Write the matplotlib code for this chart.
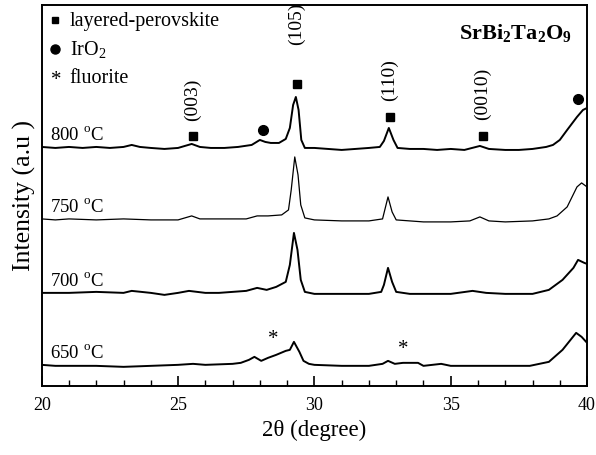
import matplotlib
matplotlib.use('Agg')
import matplotlib.pyplot as plt
from matplotlib.ticker import MultipleLocator

plt.rcParams['font.family'] = ['Liberation Serif', 'DejaVu Serif']
plt.rcParams['mathtext.fontset'] = 'custom'
plt.rcParams['mathtext.rm'] = 'Liberation Serif'
plt.rcParams['mathtext.bf'] = 'Liberation Serif:bold'

# XRD patterns (offset stacked)
tt_800 = [20.0, 20.5, 21.0, 21.5, 22.0, 22.5, 23.0, 23.3, 23.6, 24.0, 24.5, 25.0, 25.5, 25.8,
          26.2, 26.7, 27.2, 27.7, 28.0, 28.2, 28.4, 28.7, 28.95, 29.1, 29.22, 29.32, 29.42,
          29.52, 29.65, 30.0, 30.5, 31.0, 31.5, 32.0, 32.4, 32.55, 32.73, 32.9, 33.05, 33.5,
          34.0, 34.5, 35.0, 35.5, 36.07, 36.4, 37.0, 37.5, 38.0, 38.5, 38.75, 39.0, 39.27,
          39.63, 39.85, 40.0]
int_800 = [239, 238, 239, 238, 239, 238, 239, 241, 239, 238, 237, 238, 242, 239,
           238, 238, 239, 241, 246, 244, 243, 243, 247, 258, 281, 289, 276,
           246, 238, 238, 237, 236, 237, 238, 239, 245, 258, 246, 238, 237,
           237, 236, 237, 236, 240, 237, 236, 236, 237, 239, 241, 246, 256,
           269, 276, 278]

tt_750 = [20.0, 20.5, 21.0, 22.0, 23.0, 24.0, 25.0, 25.5, 25.8, 26.5, 27.0, 27.5, 27.9, 28.3,
          28.8, 29.05, 29.15, 29.28, 29.4, 29.5, 29.65, 30.0, 31.0, 32.0, 32.5, 32.7, 32.85,
          33.0, 33.5, 34.0, 35.0, 35.7, 36.07, 36.4, 37.0, 38.0, 38.6, 38.9, 39.27, 39.63,
          39.8, 40.0]
int_750 = [167, 166, 167, 166, 167, 166, 166, 170, 167, 167, 167, 167, 170, 170,
           171, 176, 196, 229, 211, 181, 168, 166, 165, 165, 167, 189, 174,
           166, 165, 164, 164, 165, 169, 165, 164, 165, 167, 170, 179, 199,
           203, 199]

tt_700 = [20.0, 21.0, 22.0, 23.0, 23.3, 24.0, 24.5, 25.0, 25.4, 26.0, 26.5, 27.0, 27.5, 27.9,
          28.25, 28.6, 28.95, 29.1, 29.25, 29.38, 29.5, 29.65, 30.0, 31.0, 32.0, 32.45, 32.55,
          32.7, 32.85, 33.0, 33.5, 34.0, 35.0, 35.8, 36.3, 37.0, 38.0, 38.6, 39.1, 39.5,
          39.67, 39.9, 40.0]
int_700 = [93, 93, 94, 93, 95, 93, 91, 93, 95, 93, 93, 94, 95, 98,
           96, 99, 104, 121, 153, 136, 106, 94, 92, 92, 92, 94, 101,
           118, 104, 94, 92, 92, 92, 95, 93, 92, 92, 96, 106, 118,
           126, 123, 122]

tt_650 = [20.0, 20.5, 21.0, 22.0, 23.0, 24.0, 25.0, 25.55, 26.0, 27.0, 27.3, 27.6, 27.8, 28.05,
          28.3, 28.6, 28.95, 29.1, 29.25, 29.45, 29.6, 29.8, 30.0, 31.0, 32.0, 32.5, 32.7,
          32.95, 33.25, 33.8, 34.0, 34.65, 35.0, 36.0, 37.0, 37.9, 38.6, 39.1, 39.6, 39.8, 40.0]
int_650 = [21, 20, 20, 20, 19, 20, 21, 22, 21, 22, 23, 26, 29, 25,
           28, 31, 35, 36, 44, 34, 25, 22, 21, 20, 20, 22, 25,
           22, 23, 23, 20, 22, 20, 20, 20, 20, 24, 36, 53, 49, 43]

temps = ['800', '750', '700', '650']
temp_label_y = [251, 179, 105, 33]

# phase markers
perov_x = [25.54, 29.36, 32.77, 36.18]
perov_y = [250, 302, 269, 250]
hkl = ['(003)', '(105)', '(110)', '(0010)']
hkl_y = [286, 362, 306, 292]
iro2_x = [28.11, 39.67]
iro2_y = [256, 287]
fluor_x = [28.48, 33.25]
fluor_y = [46, 36]

fig = plt.figure(figsize=(5.96, 4.55), dpi=100)
ax = fig.add_axes([0.070, 0.152, 0.915, 0.837])

ax.plot(tt_800, int_800, 'k-', lw=1.4)
ax.plot(tt_750, int_750, 'k-', lw=0.9)
ax.plot(tt_700, int_700, 'k-', lw=1.4)
ax.plot(tt_650, int_650, 'k-', lw=1.4)

ax.plot(perov_x, perov_y, 'ks', ms=5.5, ls='none')
ax.plot(iro2_x, iro2_y, 'ko', ms=7, ls='none')
for x, y in zip(fluor_x, fluor_y):
    ax.text(x, y, '*', fontsize=15, ha='center', va='center')
for x, y, s in zip(perov_x, hkl_y, hkl):
    ax.text(x, y, s, rotation=90, fontsize=14, ha='center', va='center')

for t, y in zip(temps, temp_label_y):
    ax.text(20.3, y, t + r' $^{\mathrm{o}}$C', fontsize=13.5, ha='left', va='center')

# legend-like key in the top left
ax.plot([0.024], [0.961], 'ks', ms=5, transform=ax.transAxes, clip_on=False)
ax.text(0.051, 0.958, 'layered-perovskite', fontsize=14.5, va='center', transform=ax.transAxes)
ax.plot([0.024], [0.885], 'ko', ms=6.5, transform=ax.transAxes)
ax.text(0.051, 0.882, r'IrO$_2$', fontsize=14.5, va='center', transform=ax.transAxes)
ax.text(0.026, 0.803, '*', fontsize=15, ha='center', va='center', transform=ax.transAxes)
ax.text(0.051, 0.808, 'fluorite', fontsize=14.5, va='center', transform=ax.transAxes)

ax.text(0.868, 0.925, r'SrBi$_\mathbf{2}$Ta$_\mathbf{2}$O$_\mathbf{9}$', fontsize=16,
        fontweight='bold', ha='center', va='center', transform=ax.transAxes)

ax.set_xlim(20, 40)
ax.set_ylim(0, 381)
ax.xaxis.set_major_locator(MultipleLocator(5))
ax.xaxis.set_minor_locator(MultipleLocator(1))
ax.tick_params(axis='x', which='major', direction='in', length=7, width=1.2, labelsize=13, pad=8)
ax.tick_params(axis='x', which='minor', direction='in', length=4, width=1.0)
ax.set_yticks([])
for sp in ax.spines.values():
    sp.set_linewidth(1.4)

ax.set_xlabel(u'2\u03b8 (degree)', fontsize=16.5, labelpad=4)
ax.set_ylabel('Intensity (a.u )', fontsize=18.5, labelpad=4)

plt.savefig('out.png', dpi=100)
